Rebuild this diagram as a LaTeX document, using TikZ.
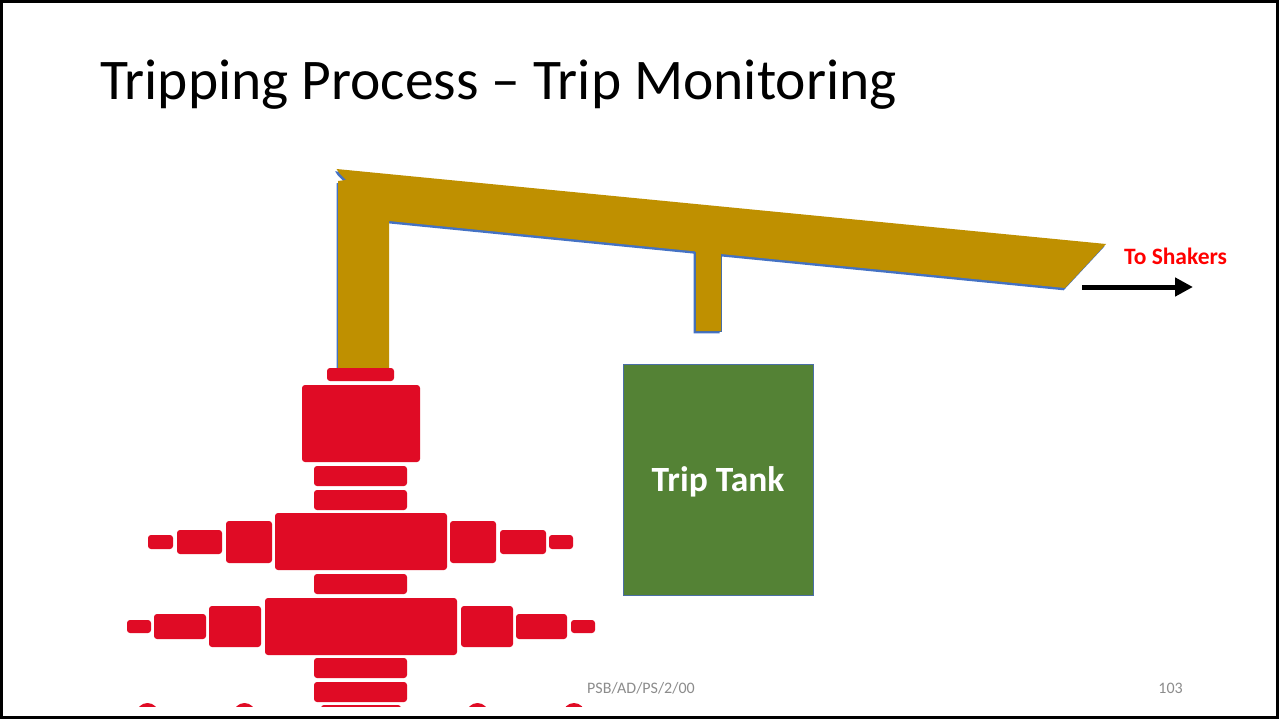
\documentclass[tikz,border=0pt]{standalone}
\usepackage{fontspec}
\setmainfont{Carlito}
\usetikzlibrary{arrows.meta}
\definecolor{bopred}{HTML}{E00B25}
\definecolor{pipegold}{HTML}{BF9000}
\definecolor{pipeedge}{HTML}{4472C4}
\definecolor{tankgreen}{HTML}{548235}
\definecolor{tankedge}{HTML}{4A6FA5}
\definecolor{footgray}{HTML}{8C8C8C}
\begin{document}
\begin{tikzpicture}[x=1pt,y=-1pt,
  bop/.style={fill=bopred,rounded corners=3pt},
  tank/.style={rectangle,fill=tankgreen,draw=tankedge,line width=0.9pt,
    minimum width=190pt,minimum height=231pt,inner sep=0pt},
  tanktext/.style={anchor=base,inner sep=0pt,text=white,
    font=\bfseries\fontsize{35.5}{42}\selectfont},
  flowlabel/.style={anchor=base west,inner sep=0pt,text=red,
    font=\bfseries\fontsize{23.5}{28}\selectfont},
  flowarrow/.style={line width=5pt,-{Triangle[length=18pt,width=18pt]}},
  footer/.style={text=footgray,font=\fontsize{16}{19}\selectfont,inner sep=0pt}]
\useasboundingbox (0,0) rectangle (1279,719);
\fill[white] (0,0) rectangle (1279,719);

% slide title
\node[anchor=base west,inner sep=0pt,font=\fontsize{57.5}{70}\selectfont] (title) at (100,100)
  {Tripping Process -- Trip Monitoring};

% flow line: bell nipple riser, sloping return line and trip tank feed
\def\flowline{(336.5,169) -- (1106,244) -- (1065,288) -- (721,254) -- (721,331)
  -- (695,331) -- (695,251.3) -- (389,221) -- (389,368) -- (338,368)
  -- (338,181) -- (346,180) -- (339.5,173.5) -- cycle}
\fill[pipeedge,shift={(-1.4,2.3)}] \flowline;
\fill[pipegold] \flowline;
\draw[tankedge,line width=0.7pt] (695,251.6) -- (695,331) -- (721,331) -- (721,254.2);
\draw[tankedge,line width=0.7pt] (338,368) -- (389,368);

% trip tank
\node[tank] (tank) at (718,479.5) {};
\node[tanktext] (tanklabel) at (718,491) {Trip Tank};

% returns to the shakers
\node[flowlabel] (shakers) at (1124,265) {To Shakers};
\coordinate (arrS) at (1082,287);
\coordinate (arrE) at (1193,287);
\draw[flowarrow] (arrS) -- (arrE);

% BOP stack
\fill[bop] (327,368) rectangle (394,381);
\fill[bop] (302,385) rectangle (420,462);
\fill[bop] (314,466) rectangle (407,486);
\fill[bop] (314,490) rectangle (407,510);
\fill[bop] (275,513) rectangle (447,570);
\fill[bop] (226,521) rectangle (272,563);
\fill[bop] (450,521) rectangle (496,563);
\fill[bop] (177,530) rectangle (222,554);
\fill[bop] (500,530) rectangle (546,554);
\fill[bop] (148,535) rectangle (173,549);
\fill[bop] (549,535) rectangle (573,549);
\fill[bop] (314,574) rectangle (407,594);
\fill[bop] (265,598) rectangle (457,655);
\fill[bop] (209,606) rectangle (261,647);
\fill[bop] (461,606) rectangle (513,647);
\fill[bop] (154,614) rectangle (206,639);
\fill[bop] (516,614) rectangle (567,639);
\fill[bop] (127,620) rectangle (151,633);
\fill[bop] (571,620) rectangle (595,633);
\fill[bop] (314,658) rectangle (407,678);
\fill[bop] (314,682) rectangle (407,702);
\begin{scope}
  \clip (0,0) rectangle (1279,706);
  \fill[bop] (321,705) rectangle (401,740);
  \foreach \cx in {147.5,244.5,477.5,574}
    \fill[bopred] (\cx,714) ellipse [x radius=11, y radius=11];
\end{scope}

% footer
\node[footer,anchor=base west] (code) at (587,693) {PSB/AD/PS/2/00};
\node[footer,anchor=base east] (page) at (1183,693) {103};

% slide frame
\draw[black,line width=2.6pt] (1.3,1.3) rectangle (1277.7,717.7);
\end{tikzpicture}
\end{document}
